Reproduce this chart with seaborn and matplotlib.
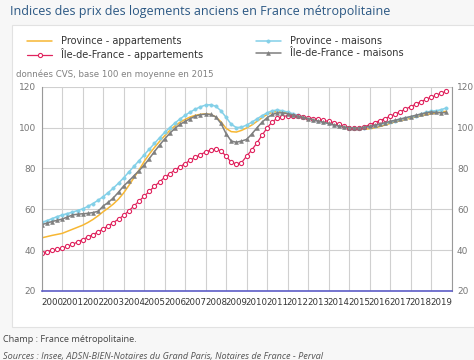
import numpy as np
import pandas as pd
import matplotlib
matplotlib.use("Agg")
import matplotlib.pyplot as plt
import seaborn as sns
from matplotlib.patches import Rectangle
from matplotlib.ticker import FixedLocator, NullFormatter

# --- chart data (quarterly index, 2000Q1 .. 2019Q4, base 100 = 2015) ---
YEARS = list(range(2000, 2020))
QUARTERS = [y + q / 4 for y in YEARS for q in range(4)]

province_appartements = [
    46.0, 46.6, 47.2, 47.7, 48.2, 49.2, 50.2, 51.2, 52.2, 53.5, 55.0, 56.8,
    58.8, 60.6, 62.6, 65.0, 68.0, 71.6, 75.4, 79.2, 83.4, 87.0, 90.2, 93.2,
    96.0, 98.6, 100.8, 102.6, 104.0, 105.2, 106.0, 106.5, 106.7, 106.4, 105.2, 102.8,
    99.6, 98.0, 97.8, 98.6, 99.8, 101.2, 103.0, 104.8, 106.4, 107.5, 107.9, 107.7,
    107.2, 106.5, 105.9, 105.3, 104.6, 104.0, 103.4, 102.8, 102.2, 101.6, 101.0, 100.4,
    100.0, 99.7, 99.5, 99.3, 99.4, 99.8, 100.5, 101.2, 102.0, 102.8, 103.4, 104.0,
    104.6, 105.2, 105.8, 106.3, 106.8, 107.2, 107.6, 108.0,
]
province_maisons = [
    53.6, 54.4, 55.4, 56.4, 57.2, 57.9, 58.6, 59.4, 60.2, 61.4, 62.8, 64.4,
    66.2, 68.2, 70.4, 72.8, 75.4, 78.2, 81.0, 83.8, 86.6, 89.4, 92.2, 95.0,
    97.6, 100.0, 102.2, 104.2, 106.0, 107.6, 109.0, 110.2, 111.0, 111.2, 110.4, 108.2,
    105.0, 101.6, 100.0, 100.2, 101.2, 102.6, 104.2, 105.8, 107.2, 108.2, 108.6, 108.2,
    107.6, 106.8, 106.0, 105.3, 104.6, 103.9, 103.2, 102.6, 102.0, 101.4, 100.8, 100.3,
    100.0, 99.8, 99.8, 100.0, 100.4, 101.0, 101.6, 102.2, 102.8, 103.4, 104.0, 104.6,
    105.2, 105.8, 106.6, 107.4, 108.0, 108.2, 108.8, 109.6,
]
idf_appartements = [
    38.6, 39.3, 39.9, 40.4, 41.0, 41.8, 42.8, 44.0, 45.2, 46.4, 47.6, 48.9,
    50.4, 51.9, 53.5, 55.2, 57.0, 59.2, 61.6, 64.0, 66.4, 68.8, 71.2, 73.4,
    75.6, 77.4, 79.2, 80.8, 82.4, 84.0, 85.4, 86.8, 88.0, 89.0, 89.4, 88.6,
    86.0, 83.0, 82.2, 82.8, 86.0, 89.0, 92.4, 96.2, 99.8, 102.8, 104.6, 105.4,
    105.8, 105.8, 105.6, 105.2, 104.8, 104.4, 104.0, 103.5, 103.0, 102.4, 101.6, 100.8,
    100.0, 99.6, 99.8, 100.4, 101.4, 102.4, 103.4, 104.4, 105.5, 106.6, 107.8, 109.0,
    110.2, 111.4, 112.6, 113.8, 114.8, 115.8, 116.8, 117.8,
]
idf_maisons = [
    52.5, 53.2, 54.0, 54.6, 55.2, 56.2, 57.2, 57.6, 57.8, 58.0, 58.4, 59.0,
    61.6, 63.4, 65.6, 68.4, 71.4, 73.8, 76.4, 78.9, 81.6, 84.8, 88.2, 91.4,
    94.4, 97.2, 99.6, 101.6, 103.0, 104.4, 105.6, 106.3, 106.6, 106.4, 105.2, 102.0,
    97.0, 93.4, 92.8, 93.4, 94.2, 96.8, 99.8, 102.6, 104.8, 106.4, 107.2, 107.2,
    106.8, 106.2, 105.6, 105.0, 104.4, 103.8, 103.2, 102.6, 102.0, 101.4, 100.8, 100.3,
    100.0, 99.8, 99.8, 100.2, 100.6, 101.2, 101.8, 102.4, 103.0, 103.6, 104.2, 104.8,
    105.4, 106.0, 106.6, 107.2, 107.6, 107.4, 107.2, 107.4,
]

SERIES = {
    "Province - appartements": province_appartements,
    "Province - maisons": province_maisons,
    "Île-de-France - appartements": idf_appartements,
    "Île-de-France - maisons": idf_maisons,
}

STYLES = {
    "Province - appartements": dict(color="#f7b733", lw=1.1, marker=None),
    "Province - maisons": dict(color="#83d0e8", lw=1.1, marker="o", ms=2.4,
                               mfc="#83d0e8", mec="#83d0e8", mew=0.4),
    "Île-de-France - appartements": dict(color="#e0245e", lw=0.9, marker="o", ms=3.0,
                                         mfc="white", mec="#e0245e", mew=0.8),
    "Île-de-France - maisons": dict(color="#7f7f7f", lw=1.1, marker="^", ms=2.8,
                                    mfc="#7f7f7f", mec="#7f7f7f", mew=0.4),
}

TITLE = "Indices des prix des logements anciens en France métropolitaine"
SUBTITLE = "données CVS, base 100 en moyenne en 2015"
CHAMP = "Champ : France métropolitaine."
SOURCES = "Sources : Insee, ADSN-BIEN-Notaires du Grand Paris, Notaires de France - Perval"


def main() -> None:
    sns.set_style("white")
    plt.rcParams["font.family"] = ["DejaVu Sans"]

    df = pd.DataFrame({"t": QUARTERS, **SERIES}).melt(
        id_vars="t", var_name="serie", value_name="indice")

    fig = plt.figure(figsize=(4.74, 3.6), dpi=100, facecolor="#f7f7f7")
    # white chart panel, behind the axes
    fig.patches.append(Rectangle((12 / 474, 1 - 327 / 360), 470 / 474, 302 / 360,
                                 transform=fig.transFigure, facecolor="white",
                                 edgecolor="#e2e2e2", lw=0.8, zorder=-10))

    ax = fig.add_axes([41.7 / 474, 1 - 291 / 360, 409.8 / 474, 204.3 / 360])
    ax.set_facecolor("white")
    ax.set_zorder(5)

    for name in SERIES:
        st = dict(STYLES[name])
        sub = df[df["serie"] == name]
        kw = dict(color=st.pop("color"), linewidth=st.pop("lw"), label=name, ax=ax)
        marker = st.pop("marker")
        if marker is None:
            sns.lineplot(data=sub, x="t", y="indice", **kw)
        else:
            sns.lineplot(data=sub, x="t", y="indice", marker=marker,
                         markersize=st["ms"], markerfacecolor=st["mfc"],
                         markeredgecolor=st["mec"], markeredgewidth=st["mew"], **kw)

    ax.set_xlim(2000, 2020)
    ax.set_ylim(20, 120)
    ax.set_xlabel("")
    ax.set_ylabel("")

    ax.xaxis.set_major_locator(FixedLocator(range(2000, 2021)))
    ax.xaxis.set_major_formatter(NullFormatter())
    ax.set_xticks([y + 0.5 for y in YEARS], [str(y) for y in YEARS], minor=True)
    ax.set_yticks(range(20, 121, 20))

    ax.grid(True, which="major", color="#d0d0d0", lw=0.8)
    ax.tick_params(axis="x", which="both", length=0, pad=5, labelsize=6.2,
                   labelcolor="#333333")
    ax.tick_params(axis="y", length=0, pad=4, labelsize=6.5, labelcolor="#777777",
                   labelright=True)

    for side in ("left", "right"):
        ax.spines[side].set_color("#999999")
        ax.spines[side].set_linewidth(0.8)
    ax.spines["top"].set_visible(False)
    ax.spines["bottom"].set_color("#5c5cc6")
    ax.spines["bottom"].set_linewidth(1.2)

    handles, labels = ax.get_legend_handles_labels()
    if ax.get_legend():
        ax.get_legend().remove()
    order = [0, 2, 1, 3]
    fig.legend([handles[i] for i in order], [labels[i] for i in order],
               loc="upper left", bbox_to_anchor=(27 / 474, 1 - 36 / 360), ncol=2,
               frameon=False, fontsize=7.0, handlelength=2.6, handletextpad=0.9,
               columnspacing=5.4, labelspacing=0.2, borderaxespad=0, borderpad=0,
               labelcolor="#333333")

    fig.text(10 / 474, 1 - 12 / 360, TITLE, fontsize=9.0, color="#2a5783",
             family=["Open Sans", "DejaVu Sans"], va="center", ha="left")
    fig.text(16 / 474, 1 - 74 / 360, SUBTITLE, fontsize=6.2, color="#808080",
             va="center", ha="left")
    fig.text(3 / 474, 1 - 340 / 360, CHAMP, fontsize=6.6, color="#444444",
             family=["Open Sans", "DejaVu Sans"], va="center", ha="left")
    fig.text(3 / 474, 1 - 357 / 360, SOURCES, fontsize=6.6, color="#555555",
             family=["Open Sans", "DejaVu Sans"], style="italic", va="center", ha="left")

    fig.savefig("out.png", dpi=100, facecolor=fig.get_facecolor())
    plt.close(fig)


if __name__ == "__main__":
    main()
